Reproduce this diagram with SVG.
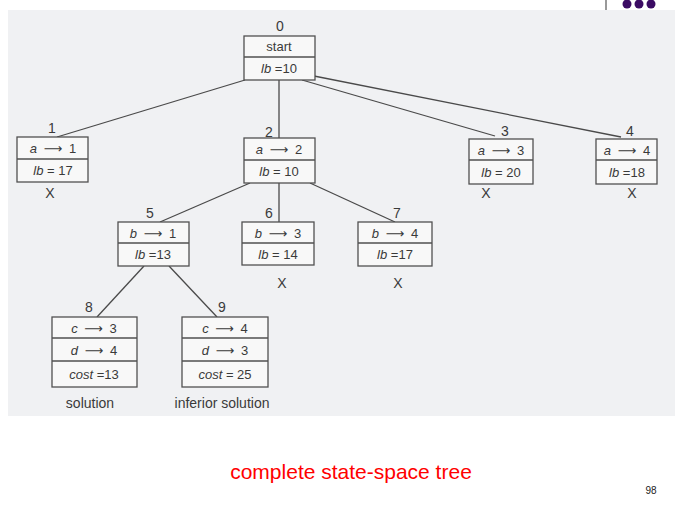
<svg xmlns="http://www.w3.org/2000/svg" width="675" height="517" viewBox="0 0 675 517">
<style>
.box{fill:#f8f8f8;stroke:#505050;stroke-width:1.3}
.sep{stroke:#505050;stroke-width:1.3}
.t{font-family:"Liberation Sans",Arial,sans-serif;font-size:13px;fill:#3a3a3a;text-anchor:middle}
.i{font-style:italic}
.w{word-spacing:3px}
.ar{font-family:"DejaVu Sans",sans-serif;font-size:13px}
.lbl{font-family:"Liberation Sans",Arial,sans-serif;font-size:14px;fill:#3a3a3a;text-anchor:middle}
#edges line{stroke:#4a4a4a;stroke-width:1.3}
</style>
<rect x="0" y="0" width="675" height="517" fill="#ffffff"/>
<rect x="8" y="10" width="667" height="406" fill="#f0f1f3"/>
<line x1="606" y1="0" x2="606" y2="10" stroke="#555" stroke-width="1.2"/>
<g fill="#3b0b63"><circle cx="627" cy="4" r="4.5"/><circle cx="639" cy="4" r="4.5"/><circle cx="651" cy="4" r="4.5"/></g>
<g id="edges">
<line x1="245" y1="80" x2="57" y2="137"/>
<line x1="279" y1="80" x2="279" y2="138"/>
<line x1="302" y1="80" x2="495" y2="136"/>
<line x1="314" y1="76" x2="621" y2="137"/>
<line x1="250" y1="183" x2="160" y2="222"/>
<line x1="279" y1="183" x2="279" y2="222"/>
<line x1="310" y1="183" x2="395" y2="222"/>
<line x1="144" y1="266" x2="97" y2="317"/>
<line x1="169" y1="266" x2="217" y2="317"/>
</g>
<g id="n0">
<text class="lbl" x="280" y="31">0</text>
<rect class="box" x="244" y="36" width="71" height="44"/><line class="sep" x1="244" y1="57" x2="315" y2="57"/>
<text class="t" x="279" y="51">start</text>
<text class="t" x="279" y="73"><tspan class="i">lb</tspan> =10</text>
</g>
<g id="n1">
<text class="lbl" x="52" y="133">1</text>
<rect class="box" x="17" y="137" width="71" height="45"/><line class="sep" x1="17" y1="159" x2="88" y2="159"/>
<text class="t w" x="53" y="153"><tspan class="i">a</tspan> <tspan class="ar">⟶</tspan> 1</text>
<text class="t" x="53" y="175"><tspan class="i">lb</tspan> = 17</text>
<text class="lbl" x="50" y="198">X</text>
</g>
<g id="n2">
<text class="lbl" x="269" y="137">2</text>
<rect class="box" x="244" y="138" width="71" height="45"/><line class="sep" x1="244" y1="160" x2="315" y2="160"/>
<text class="t w" x="279" y="154"><tspan class="i">a</tspan> <tspan class="ar">⟶</tspan> 2</text>
<text class="t" x="279" y="176"><tspan class="i">lb</tspan> = 10</text>
</g>
<g id="n3">
<text class="lbl" x="505" y="136">3</text>
<rect class="box" x="469" y="139" width="64" height="45"/><line class="sep" x1="469" y1="160" x2="533" y2="160"/>
<text class="t w" x="501" y="155"><tspan class="i">a</tspan> <tspan class="ar">⟶</tspan> 3</text>
<text class="t" x="501" y="177"><tspan class="i">lb</tspan> = 20</text>
<text class="lbl" x="486" y="198">X</text>
</g>
<g id="n4">
<text class="lbl" x="630" y="136">4</text>
<rect class="box" x="596" y="139" width="61" height="45"/><line class="sep" x1="596" y1="160" x2="657" y2="160"/>
<text class="t w" x="627" y="155"><tspan class="i">a</tspan> <tspan class="ar">⟶</tspan> 4</text>
<text class="t" x="627" y="177"><tspan class="i">lb</tspan> =18</text>
<text class="lbl" x="632" y="198">X</text>
</g>
<g id="n5">
<text class="lbl" x="150" y="218">5</text>
<rect class="box" x="118" y="222" width="71" height="44"/><line class="sep" x1="118" y1="243" x2="189" y2="243"/>
<text class="t w" x="153" y="238"><tspan class="i">b</tspan> <tspan class="ar">⟶</tspan> 1</text>
<text class="t" x="153" y="259"><tspan class="i">lb</tspan> =13</text>
</g>
<g id="n6">
<text class="lbl" x="269" y="218">6</text>
<rect class="box" x="242" y="222" width="72" height="43"/><line class="sep" x1="242" y1="243" x2="314" y2="243"/>
<text class="t w" x="278" y="238"><tspan class="i">b</tspan> <tspan class="ar">⟶</tspan> 3</text>
<text class="t" x="278" y="259"><tspan class="i">lb</tspan> = 14</text>
<text class="lbl" x="282" y="288">X</text>
</g>
<g id="n7">
<text class="lbl" x="397" y="218">7</text>
<rect class="box" x="358" y="222" width="74" height="44"/><line class="sep" x1="358" y1="243" x2="432" y2="243"/>
<text class="t w" x="395" y="238"><tspan class="i">b</tspan> <tspan class="ar">⟶</tspan> 4</text>
<text class="t" x="395" y="259"><tspan class="i">lb</tspan> =17</text>
<text class="lbl" x="398" y="288">X</text>
</g>
<g id="n8">
<text class="lbl" x="89" y="312">8</text>
<rect class="box" x="52" y="317" width="85" height="70"/>
<line class="sep" x1="52" y1="338" x2="137" y2="338"/><line class="sep" x1="52" y1="361" x2="137" y2="361"/>
<text class="t w" x="94" y="333"><tspan class="i">c</tspan> <tspan class="ar">⟶</tspan> 3</text>
<text class="t w" x="94" y="355"><tspan class="i">d</tspan> <tspan class="ar">⟶</tspan> 4</text>
<text class="t" x="94" y="379"><tspan class="i">cost</tspan> =13</text>
<text class="lbl" x="90" y="408">solution</text>
</g>
<g id="n9">
<text class="lbl" x="222" y="312">9</text>
<rect class="box" x="182" y="317" width="86" height="70"/>
<line class="sep" x1="182" y1="338" x2="268" y2="338"/><line class="sep" x1="182" y1="361" x2="268" y2="361"/>
<text class="t w" x="225" y="333"><tspan class="i">c</tspan> <tspan class="ar">⟶</tspan> 4</text>
<text class="t w" x="225" y="355"><tspan class="i">d</tspan> <tspan class="ar">⟶</tspan> 3</text>
<text class="t" x="225" y="379"><tspan class="i">cost</tspan> = 25</text>
<text class="lbl" x="222" y="408">inferior solution</text>
</g>
<text x="351" y="479" font-family="Liberation Sans, Arial, sans-serif" font-size="21" fill="#ff0000" text-anchor="middle">complete state-space tree</text>
<text x="651" y="494" font-family="Liberation Sans, Arial, sans-serif" font-size="10" fill="#222" text-anchor="middle">98</text>
</svg>
